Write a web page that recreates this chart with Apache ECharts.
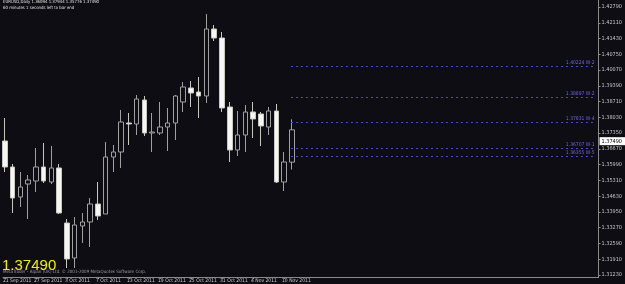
<!DOCTYPE html>
<html>
<head>
<meta charset="utf-8">
<script src="https://cdn.jsdelivr.net/npm/echarts@6/dist/echarts.min.js"></script>
<style>
html, body { margin: 0; padding: 0; background: #0e0d13; }
#chart { width: 625px; height: 284px; }
</style>
</head>
<body>
<div id="chart"></div>
<script>
const symbolTitle = 'EURUSD,Daily 1.36094 1.37944 1.35776 1.37490';
const timerText = '60 minutes 1 seconds left to bar end';
const copyright = 'MetaTrader - Alpari (UK) Ltd. \u00a9 2001-2009 MetaQuotes Software Corp.';
const lastPrice = 1.37490;

// daily bars 21 Sep 2011 .. 11 Nov 2011
const opens = [1.37008, 1.35886, 1.34592, 1.35152, 1.35282, 1.35886, 1.35239, 1.35843, 1.33469, 1.31959,
    1.33340, 1.33513, 1.34289, 1.33858, 1.36317, 1.36533, 1.37785, 1.37741, 1.38777, 1.37353,
    1.37353, 1.37612, 1.37785, 1.38691, 1.39295, 1.39122, 1.38950, 1.41841, 1.41452, 1.38475,
    1.36620, 1.37267, 1.38259, 1.38173, 1.37612, 1.38302, 1.35239, 1.36094];
const highs = [1.38000, 1.36016, 1.35670, 1.35541, 1.36706, 1.36922, 1.36792, 1.36016, 1.33642, 1.33728,
    1.33901, 1.34548, 1.35239, 1.36965, 1.36835, 1.38346, 1.38216, 1.38993, 1.38950, 1.38216,
    1.38691, 1.38432, 1.38993, 1.39554, 1.39597, 1.39769, 1.42488, 1.42013, 1.41711, 1.38691,
    1.38302, 1.38561, 1.38691, 1.38259, 1.38475, 1.38604, 1.36533, 1.37944];
const lows = [1.35670, 1.33901, 1.34160, 1.33642, 1.34807, 1.35195, 1.35152, 1.33858, 1.31528, 1.31528,
    1.32607, 1.32434, 1.33599, 1.33858, 1.35670, 1.35843, 1.36835, 1.37267, 1.37224, 1.36533,
    1.37267, 1.36577, 1.37051, 1.38259, 1.38475, 1.38000, 1.38648, 1.41323, 1.38259, 1.36102,
    1.36361, 1.36533, 1.37137, 1.36792, 1.37267, 1.35195, 1.34850, 1.35776];
const closes = [1.35886, 1.34548, 1.35023, 1.35325, 1.35886, 1.35282, 1.35843, 1.33901, 1.31916, 1.33383,
    1.33513, 1.34289, 1.33772, 1.36317, 1.36533, 1.37828, 1.37741, 1.38820, 1.37353, 1.37396,
    1.37612, 1.37785, 1.38950, 1.39338, 1.39079, 1.38950, 1.41841, 1.41452, 1.38432, 1.36620,
    1.37267, 1.38259, 1.37957, 1.37655, 1.38302, 1.35239, 1.36102, 1.37490];

// time scale labels, one every 4 bars
const dateTicks = ['21 Sep 2011', '27 Sep 2011', '3 Oct 2011', '7 Oct 2011', '13 Oct 2011',
    '19 Oct 2011', '25 Oct 2011', '31 Oct 2011', '4 Nov 2011', '10 Nov 2011'];
const priceTicks = [1.42790, 1.42110, 1.41430, 1.40750, 1.40070, 1.39390, 1.38710, 1.38030, 1.37350,
    1.36670, 1.35990, 1.35310, 1.34630, 1.33950, 1.33270, 1.32590, 1.31910, 1.31230];

// horizontal levels drawn to the right of the last bar
const levelPrices = [1.40224, 1.38897, 1.37831, 1.36707, 1.36355];
const levelNames = ['W-2', 'W-2', 'W-4', 'W-1', 'W-5'];

const bg = '#0e0d13';
const smallFont = "'Liberation Sans Narrow', 'DejaVu Sans Condensed', sans-serif";

const chart = echarts.init(document.getElementById('chart'));
const candles = opens.map((o, i) => [i, o, closes[i], lows[i], highs[i]]);
const lastBar = opens.length - 1;

const option = {
    backgroundColor: bg,
    animation: false,
    grid: { left: 0, right: 18, top: 0, bottom: 7 },
    xAxis: {
        type: 'value',
        min: -0.253,
        max: 76.58,
        splitLine: { show: false },
        axisLine: { show: true, onZero: false, lineStyle: { color: '#8a8a8a', width: 1 } },
        axisTick: { show: true, customValues: dateTicks.map((d, i) => i * 4), length: 2, lineStyle: { color: '#8a8a8a' } },
        axisLabel: {
            customValues: dateTicks.map((d, i) => i * 4),
            formatter: v => dateTicks[Math.round(v / 4)] || '',
            color: '#c8c8c8', fontSize: 5, fontFamily: smallFont,
            align: 'left', margin: 1, padding: [0, 0, 0, -2]
        }
    },
    yAxis: {
        type: 'value',
        position: 'right',
        min: 1.31139,
        max: 1.43092,
        scale: true,
        splitLine: { show: false },
        axisLine: { show: true, onZero: false, lineStyle: { color: '#8a8a8a', width: 1 } },
        axisTick: { show: true, customValues: priceTicks, length: 2, inside: false, lineStyle: { color: '#8a8a8a' } },
        axisLabel: {
            customValues: priceTicks,
            formatter: v => v.toFixed(5),
            color: '#c8c8c8', fontSize: 5.5, fontFamily: smallFont, margin: 3
        }
    },
    series: [{
        type: 'candlestick',
        data: candles,
        encode: { x: 0, y: [1, 2, 3, 4] },
        barWidth: 5,
        itemStyle: {
            color: bg,
            borderColor: '#a0a0a0',
            color0: '#f6f6f2',
            borderColor0: '#c8c8c0',
            borderWidth: 1
        },
        markLine: {
            silent: true,
            symbol: 'none',
            animation: false,
            data: levelPrices.map((p, i) => [
                {
                    coord: [lastBar - 0.1, p],
                    lineStyle: { type: [2, 3], color: '#5046d8', width: 1 },
                    label: {
                        show: true, position: 'insideEndTop', distance: 1,
                        formatter: p.toFixed(5) + ' ' + levelNames[i],
                        color: '#6e64e0', fontSize: 5, fontFamily: smallFont
                    }
                },
                { coord: [76.2, p] }
            ]).concat([{
                yAxis: lastPrice,
                lineStyle: { color: 'rgba(0,0,0,0)', width: 1 },
                label: {
                    show: true, position: 'end', distance: 1,
                    formatter: lastPrice.toFixed(5),
                    color: '#000', backgroundColor: '#ffffff',
                    fontSize: 5.5, fontFamily: smallFont, padding: [1, 3, 1, 2]
                }
            }])
        }
    }],
    graphic: [
        {
            type: 'text', left: 3, top: 0, z: 10,
            style: { text: symbolTitle, fill: '#e0e0e0', fontSize: 4.3, fontFamily: smallFont }
        },
        {
            type: 'text', left: 3, top: 6, z: 10,
            style: { text: timerText, fill: '#e0e0e0', fontSize: 4.3, fontFamily: smallFont }
        },
        {
            type: 'text', left: 3, top: 269, z: 10,
            style: { text: copyright, fill: '#9a9a9a', fontSize: 4.5, fontFamily: smallFont }
        },
        {
            type: 'text', left: 2, top: 258, z: 11,
            style: { text: lastPrice.toFixed(5), fill: '#f0f000', fontSize: 15, fontFamily: "'Liberation Sans', Arial, sans-serif" }
        }
    ]
};

chart.setOption(option);
</script>
</body>
</html>
